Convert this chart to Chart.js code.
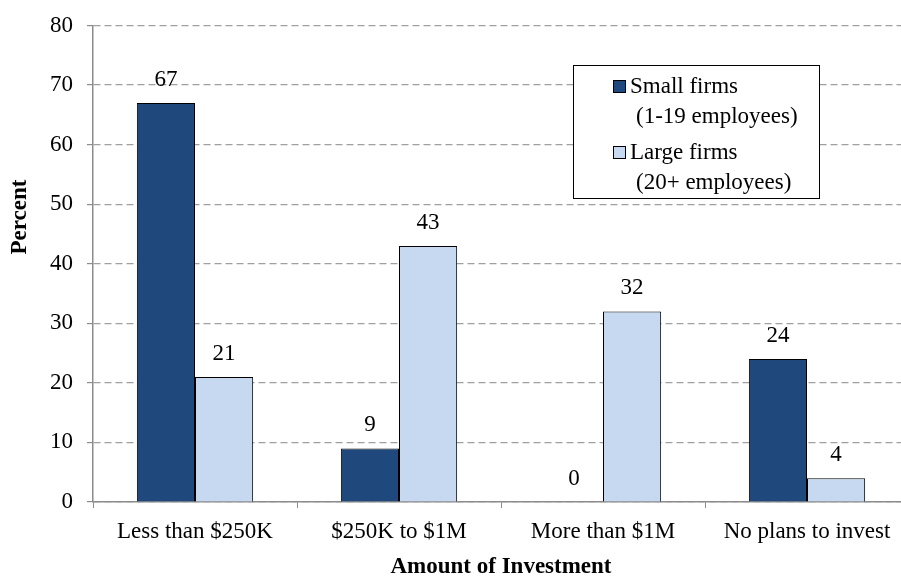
<!DOCTYPE html>
<html>
<head>
<meta charset="utf-8">
<script src="https://cdn.jsdelivr.net/npm/chart.js@4/dist/chart.umd.min.js"></script>
<style>
  html, body { margin: 0; padding: 0; background: #fff; overflow: hidden; }
  /* the plot runs a few pixels past the visible right edge */
  #wrap { width: 901px; height: 577px; position: relative; overflow: hidden; }
</style>
</head>
<body>
<div id="wrap"><canvas id="chart" width="910" height="577"></canvas></div>
<script>
var categories = ["Less than $250K", "$250K to $1M", "More than $1M", "No plans to invest"];
var smallFirms = [67, 9, 0, 24];
var largeFirms = [21, 43, 32, 4];
var smallLabel = ["Small firms", "(1-19 employees)"];
var largeLabel = ["Large firms", "(20+ employees)"];
var yTicks = [0, 10, 20, 30, 40, 50, 60, 70, 80];
var yTitle = "Percent";
var xTitle = "Amount of Investment";

var serif = "'Liberation Serif', 'Times New Roman', serif";
var dark = "#1f497d";
var light = "#c6d9f1";

// value labels above each bar
var barValues = {
    id: 'barValues',
    afterDatasetsDraw: function(chart) {
        var ctx = chart.ctx;
        ctx.save();
        ctx.font = "23px " + serif;
        ctx.fillStyle = "#000";
        ctx.textAlign = "center";
        ctx.textBaseline = "middle";
        chart.data.datasets.forEach(function(ds, i) {
            chart.getDatasetMeta(i).data.forEach(function(bar, j) {
                ctx.fillText(String(ds.data[j]), bar.x, bar.y - 23);
            });
        });
        ctx.restore();
    }
};

// rotated y title, sitting a bit above the middle of the axis
var yAxisTitle = {
    id: 'yAxisTitle',
    afterDraw: function(chart) {
        var ctx = chart.ctx;
        ctx.save();
        ctx.translate(20, 217);
        ctx.rotate(-Math.PI / 2);
        ctx.font = "bold 23px " + serif;
        ctx.fillStyle = "#000";
        ctx.textAlign = "center";
        ctx.textBaseline = "middle";
        ctx.fillText(yTitle, 0, 0);
        ctx.restore();
    }
};

// boxed legend with two-line entries
var boxLegend = {
    id: 'boxLegend',
    afterDraw: function(chart) {
        var ctx = chart.ctx;
        ctx.save();
        ctx.fillStyle = "#fff";
        ctx.fillRect(573.5, 65.5, 246, 133);
        ctx.strokeStyle = "#000";
        ctx.lineWidth = 1;
        ctx.strokeRect(573.5, 65.5, 246, 133);
        ctx.font = "23px " + serif;
        ctx.textBaseline = "middle";
        ctx.textAlign = "left";
        var rows = [[smallLabel, dark, 87], [largeLabel, light, 153]];
        rows.forEach(function(r) {
            ctx.fillStyle = r[1];
            ctx.fillRect(613.5, r[2] - 6.5, 12, 12);
            ctx.strokeStyle = "#000";
            ctx.strokeRect(613.5, r[2] - 6.5, 12, 12);
            ctx.fillStyle = "#000";
            ctx.fillText(r[0][0], 630, r[2]);
            ctx.fillText(r[0][1], 636, r[2] + 30);
        });
        ctx.restore();
    }
};

new Chart(document.getElementById("chart"), {
    type: 'bar',
    data: {
        labels: categories,
        datasets: [
            { label: smallLabel.join(" "), data: smallFirms, backgroundColor: dark, borderColor: "#000", borderWidth: 1 },
            { label: largeLabel.join(" "), data: largeFirms, backgroundColor: light, borderColor: "#000", borderWidth: 1 }
        ]
    },
    options: {
        responsive: false,
        animation: false,
        events: [],
        layout: { padding: { top: 0, right: 1, left: 0, bottom: 0 } },
        datasets: { bar: { categoryPercentage: 0.57, barPercentage: 1.0 } },
        plugins: {
            legend: { display: false },
            tooltip: { enabled: false }
        },
        scales: {
            x: {
                grid: { display: true, drawOnChartArea: false, drawTicks: true, tickLength: 6, tickColor: "#8c8c8c", offset: true },
                border: { color: "#8c8c8c", width: 1.5 },
                ticks: { color: "#000", font: { family: serif, size: 23 }, padding: 10, maxRotation: 0 },
                title: { display: true, text: xTitle, color: "#000", font: { family: serif, size: 23, weight: "bold", lineHeight: 0.85 }, padding: { top: 0, bottom: 0 } },
                afterFit: function(scale) { scale.height = 75; }
            },
            y: {
                min: 0,
                max: 80,
                afterBuildTicks: function(scale) { scale.ticks = yTicks.map(function(v) { return { value: v }; }); },
                grid: { color: "#a0a0a0", lineWidth: 1.2, drawTicks: true, tickLength: 6, tickColor: "#8c8c8c" },
                border: { color: "#8c8c8c", width: 1.5, dash: [7, 4] },
                ticks: { color: "#000", font: { family: serif, size: 23, lineHeight: 1.0 }, padding: 14 },
                afterFit: function(scale) { scale.width = 93; }
            }
        }
    },
    plugins: [barValues, yAxisTitle, boxLegend]
});
</script>
</body>
</html>
